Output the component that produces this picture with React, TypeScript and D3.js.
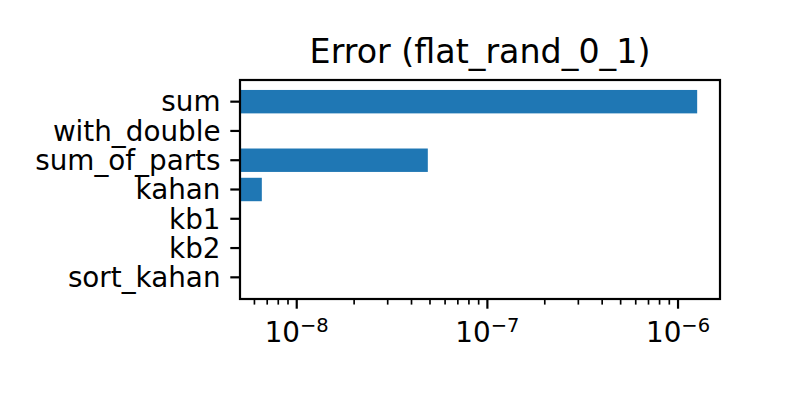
import React, { useEffect, useRef } from "react";
import * as d3 from "d3";

// Chart data
const categories = [
  "sum",
  "with_double",
  "sum_of_parts",
  "kahan",
  "kb1",
  "kb2",
  "sort_kahan",
];
const errors = [1.26e-6, 0, 4.87e-8, 6.56e-9, 0, 0, 0];
const majorTicks = [1e-8, 1e-7, 1e-6];
const majorTickExponents = ["−8", "−7", "−6"];
const chartTitle = "Error (flat_rand_0_1)";

const App: React.FC = () => {
  const svgRef = useRef<SVGSVGElement>(null);

  useEffect(() => {
    if (!svgRef.current) return;

    d3.select(svgRef.current).selectAll("*").remove();

    const width = 800;
    const height = 400;
    const margin = { top: 80, right: 80, bottom: 101, left: 240 };
    const innerWidth = width - margin.left - margin.right;
    const innerHeight = height - margin.top - margin.bottom;
    const font = "DejaVu Sans, sans-serif";
    const lw = 2.2; // 0.8pt at 200dpi

    const svg = d3
      .select(svgRef.current)
      .attr("width", width)
      .attr("height", height);

    svg
      .append("rect")
      .attr("width", width)
      .attr("height", height)
      .attr("fill", "#ffffff");

    const g = svg
      .append("g")
      .attr("transform", `translate(${margin.left}, ${margin.top})`);

    // Scales
    const xScale = d3
      .scaleLog()
      .domain([5.04e-9, 1.66e-6])
      .range([0, innerWidth]);

    const n = categories.length;
    const pad = (n - 1 + 0.8) * 0.05;
    const yScale = d3
      .scaleLinear()
      .domain([-0.4 - pad, n - 1 + 0.4 + pad])
      .range([0, innerHeight]);

    // Bars (zero values vanish on a log axis)
    const barData = categories
      .map((c, i) => ({ c, i, v: errors[i] }))
      .filter((d) => d.v > 0);

    g.selectAll(".bar")
      .data(barData)
      .enter()
      .append("rect")
      .attr("class", "bar")
      .attr("x", 0)
      .attr("y", (d) => yScale(d.i - 0.4))
      .attr("width", (d) => xScale(d.v))
      .attr("height", (d) => yScale(d.i + 0.4) - yScale(d.i - 0.4))
      .attr("fill", "#1f77b4");

    // Minor ticks
    const [d0, d1] = xScale.domain();
    const minor: number[] = [];
    for (let e = -10; e <= -5; e++) {
      for (let k = 2; k <= 9; k++) {
        const v = k * Math.pow(10, e);
        if (v >= d0 && v <= d1) minor.push(v);
      }
    }
    g.selectAll(".minor")
      .data(minor)
      .enter()
      .append("line")
      .attr("x1", (d) => xScale(d))
      .attr("x2", (d) => xScale(d))
      .attr("y1", innerHeight)
      .attr("y2", innerHeight + 5.6)
      .attr("stroke", "#000")
      .attr("stroke-width", 1.67);

    // Major x ticks + labels
    majorTicks.forEach((t, i) => {
      const x = xScale(t);
      g.append("line")
        .attr("x1", x)
        .attr("x2", x)
        .attr("y1", innerHeight)
        .attr("y2", innerHeight + 9.7)
        .attr("stroke", "#000")
        .attr("stroke-width", lw);

      const label = g
        .append("text")
        .attr("x", x)
        .attr("y", innerHeight + 42.5)
        .attr("text-anchor", "middle")
        .style("font-family", font)
        .style("fill", "#000");
      label.append("tspan").style("font-size", "27.8px").text("10");
      label
        .append("tspan")
        .attr("dy", -10)
        .style("font-size", "19.5px")
        .text(majorTickExponents[i]);
    });

    // Y ticks + labels
    categories.forEach((c, i) => {
      const y = yScale(i);
      g.append("line")
        .attr("x1", 0)
        .attr("x2", -9.7)
        .attr("y1", y)
        .attr("y2", y)
        .attr("stroke", "#000")
        .attr("stroke-width", lw);
      g.append("text")
        .attr("x", -19.5)
        .attr("y", y)
        .attr("dy", "0.35em")
        .attr("text-anchor", "end")
        .style("font-family", font)
        .style("font-size", "27.8px")
        .style("fill", "#000")
        .text(c);
    });

    // Frame
    g.append("rect")
      .attr("x", 0)
      .attr("y", 0)
      .attr("width", innerWidth)
      .attr("height", innerHeight)
      .attr("fill", "none")
      .attr("stroke", "#000")
      .attr("stroke-width", lw);

    // Title
    svg
      .append("text")
      .attr("x", margin.left + innerWidth / 2)
      .attr("y", margin.top - 16.7)
      .attr("text-anchor", "middle")
      .style("font-family", font)
      .style("font-size", "33.3px")
      .style("fill", "#000")
      .text(chartTitle);
  }, []);

  return (
    <svg
      ref={svgRef}
      style={{ position: "absolute", left: 0, top: 0, display: "block" }}
    ></svg>
  );
};

export default App;
